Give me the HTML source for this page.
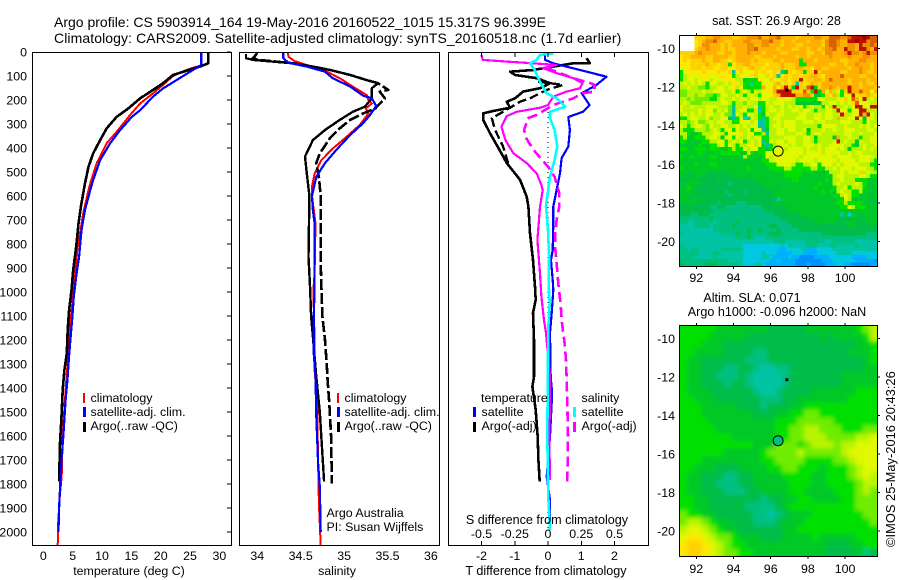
<!DOCTYPE html>
<html>
<head>
<meta charset="utf-8">
<title>Argo profile</title>
<style>
html,body{margin:0;padding:0;background:#fff;}
svg{display:block;font-family:"Liberation Sans",sans-serif;fill:#000;}
.t{font-size:14px;}
.l{font-size:12.4px;}
.w{font-size:12.6px;}
</style>
</head>
<body>
<svg id="chart" xmlns="http://www.w3.org/2000/svg" width="900" height="580" viewBox="0 0 900 580">
<defs>
<clipPath id="clip-a"><rect x="32" y="52" width="199" height="493"/></clipPath>
<clipPath id="clip-b"><rect x="239" y="52" width="201" height="493"/></clipPath>
<clipPath id="clip-c"><rect x="448" y="52" width="201" height="493"/></clipPath>
<clipPath id="clip-m2"><rect x="679.5" y="325" width="198" height="231.5"/></clipPath>
<filter id="soft" x="-5%" y="-5%" width="110%" height="110%"><feGaussianBlur stdDeviation="2.2"/></filter>
</defs>
<text class="t" x="54" y="27">Argo profile: CS 5903914_164 19-May-2016 20160522_1015 15.317S 96.399E</text>
<text class="t" x="54" y="43" style="letter-spacing:0.09px">Climatology: CARS2009. Satellite-adjusted climatology: synTS_20160518.nc (1.7d earlier)</text>
<g id="panels"></g>
<text class="l" x="129" y="575" text-anchor="middle">temperature (deg C)</text>
<text class="l" x="337" y="575" text-anchor="middle">salinity</text>
<text class="w" x="546" y="575" text-anchor="middle">T difference from climatology</text>
<text class="w" x="547" y="524" text-anchor="middle">S difference from climatology</text>
<text class="l" x="326.5" y="517">Argo Australia</text>
<text class="l" x="326.5" y="531">PI: Susan Wijffels</text>
<text class="w" x="776.5" y="25" text-anchor="middle">sat. SST: 26.9 Argo: 28</text>
<text class="w" x="752" y="302" text-anchor="middle">Altim. SLA: 0.071</text>
<text class="w" x="777" y="316" text-anchor="middle">Argo h1000: -0.096 h2000: NaN</text>
<text font-size="12.9" transform="translate(895,547) rotate(-90)">©IMOS 25-May-2016 20:43:26</text>
<g>
<rect x="83" y="393" width="2" height="10" fill="#f00"/>
<rect x="83" y="407" width="3" height="10" fill="#00f"/>
<rect x="83" y="422" width="3" height="10" fill="#000"/>
<text class="l" x="90.5" y="402">climatology</text>
<text class="l" x="90.5" y="416">satellite-adj. clim.</text>
<text class="l" x="90.5" y="430">Argo(..raw -QC)</text>
</g>
<g>
<rect x="337" y="393" width="2" height="10" fill="#f00"/>
<rect x="337" y="407" width="3" height="10" fill="#00f"/>
<rect x="337" y="422" width="3" height="10" fill="#000"/>
<text class="l" x="344.5" y="402">climatology</text>
<text class="l" x="344.5" y="416">satellite-adj. clim.</text>
<text class="l" x="344.5" y="430">Argo(..raw -QC)</text>
</g>
<g>
<text class="l" x="481" y="402">temperature</text>
<rect x="473" y="407" width="3" height="10" fill="#00f"/>
<text class="l" x="481.5" y="416">satellite</text>
<rect x="473" y="422" width="3" height="10" fill="#000"/>
<text class="l" x="481.5" y="430">Argo(-adj)</text>
<text class="l" x="581.5" y="402">salinity</text>
<rect x="573" y="407" width="3" height="10" fill="#0ff"/>
<text class="l" x="581.5" y="416">satellite</text>
<rect x="573" y="422" width="3" height="10" fill="#f0f"/>
<text class="l" x="581.5" y="430">Argo(-adj)</text>
</g>
</svg>
<script>
// ---- profile data (depth in dbar, values in physical units) ----
const climTDepth = [0,55,75,100,137,172,214,262,332,380,463,547,575,672,755,825,936,1033,1103,1186,1270,1339,1464,1603,1769,1839,1950,2055];
const climTValue = [26.9,26.9,24.4,22.1,20.4,18.7,16.5,14.8,12.5,10.8,9.1,8,7.7,6.8,6.25,5.8,5.4,5,4.7,4.4,4.26,4,3.65,3.3,3.13,2.85,2.56,2.45];
const satTDepth = [0,55,82,117,152,186,242,270,325,380,450,533,575,658,742,853,936,1019,1103,1186,1270,1353,1450,1603,1686,1797,1880,1950,2000];
const satTValue = [26.9,26.9,25,22.7,20.4,18.7,16.5,15.1,13.1,11.4,9.7,8.5,8,7.1,6.5,6.1,5.6,5.2,4.95,4.67,4.38,4.15,3.8,3.4,3.13,2.9,2.73,2.62,2.6];
const argoTDepth = [0,47,61,78,96,130,158,193,235,270,318,367,422,478,547,575,644,714,811,908,992,1075,1158,1255,1325,1408,1519,1630,1790];
const argoTValue = [28.1,28.1,26.7,24.4,22.1,20.4,18.7,16.5,14.5,12.5,10.8,9.7,8.5,7.7,7.1,6.9,6.4,6,5.6,5.1,4.8,4.4,4.15,4,3.6,3.3,3.1,2.85,2.7];

const climSDepth = [0,20,38,54,78,109,144,179,200,214,235,256,304,353,402,450,506,561,600,714,925,992,1200,1325,1464,1714,1880,2055];
const climSValue = [34.35,34.36,34.43,34.57,34.78,34.95,35.1,35.26,35.28,35.32,35.25,35.28,35.18,35.03,34.87,34.74,34.66,34.63,34.63,34.67,34.66,34.645,34.66,34.66,34.69,34.7,34.71,34.73];
const satSDepth = [0,26,45,61,82,109,144,182,193,225,262,296,346,408,463,520,600,660,714,992,1103,1255,1350,1519,1714,1810,2000];
const satSValue = [34.3,34.3,34.36,34.57,34.78,34.87,35.07,35.22,35.32,35.37,35.3,35.22,35.07,34.91,34.78,34.68,34.63,34.64,34.66,34.66,34.65,34.65,34.67,34.68,34.7,34.72,34.73];
const argoSDepth = [9,26,33,40,47,61,75,96,117,130,151,193,228,249,283,325,367,436,506,600,853,992,1103,1186,1270,1353,1500,1790];
const argoSValue = [33.87,33.87,33.95,34.18,34.41,34.64,34.84,35.07,35.26,35.39,35.32,35.32,35.24,35.1,34.95,34.78,34.64,34.55,34.57,34.6,34.59,34.61,34.62,34.64,34.66,34.68,34.72,34.77];
const rawSDepth = [5,26,33,47,61,75,96,117,130,158,165,193,235,256,283,318,358,422,463,520,603,714,879,992,1103,1200,1296,1367,1464,1603,1797];
const rawSValue = [34,33.95,34.02,34.41,34.64,34.84,35.07,35.26,35.39,35.51,35.41,35.47,35.36,35.22,35.07,34.95,34.84,34.72,34.68,34.71,34.73,34.73,34.73,34.74,34.75,34.78,34.8,34.81,34.83,34.85,34.86];

const dTSatDepth = [6,33,47,75,103,137,172,221,249,271,325,394,442,506,575,644,714,825,867,950,992,1088,1171,1353,1400,1460,1603,1769,1867,1992];
const dTSatValue = [-0.09,-0.09,0.16,0.96,1.76,1.46,1.01,1.25,1.05,0.61,0.66,0.61,0.41,0.36,0.26,0.16,0.16,0.14,0.09,0.14,0.16,0.11,0.06,0.08,0.11,0.11,0.06,-0.04,0.06,0.06];
const dTArgoDepth = [26,47,47,61,75,82,96,109,130,151,165,193,207,232,246,256,283,339,388,463,533,603,644,755,867,978,1033,1088,1200,1353,1394,1492,1603,1700,1790];
const dTArgoValue = [1.16,1.26,0.76,0.16,-0.45,-1.14,-0.99,-0.34,0.06,-0.24,-0.75,-0.99,-1.24,-1.14,-1.65,-1.95,-1.95,-1.74,-1.54,-1.24,-0.84,-0.64,-0.59,-0.54,-0.45,-0.39,-0.37,-0.45,-0.42,-0.42,-0.47,-0.37,-0.31,-0.29,-0.25];
const dTRawDepth = [124,130,137,158,193,207,249,276,325,394,463];
const dTRawValue = [-0.3,0.06,0.45,-0.04,-0.54,-0.84,-1.35,-1.69,-1.59,-1.35,-1.2];
const dSArgoDepth = [12,33,40,47,54,67,88,109,130,151,165,186,221,232,249,267,311,367,422,463,506,554,575,644,714,783,853,922,1019,1117,1171,1353,1464,1600,1783];
const dSArgoValue = [-0.5,-0.49,-0.31,-0.11,0.065,-0.04,0.065,0.19,0.26,0.24,0.14,0.04,0,-0.06,-0.235,-0.31,-0.35,-0.32,-0.26,-0.16,-0.085,-0.05,-0.04,-0.06,-0.07,-0.08,-0.07,-0.06,-0.05,-0.03,-0.015,0.015,0.015,0.01,0.015];
const dSRawDepth = [67,88,109,130,137,165,172,193,221,262,276,325,358,408,478,520,589,644,700,760,820,880,978,1047,1130,1213,1283,1353,1464,1600,1797];
const dSRawValue = [-0.01,0.09,0.19,0.32,0.35,0.35,0.26,0.19,0.04,-0.085,-0.15,-0.18,-0.165,-0.11,0,0.05,0.085,0.085,0.065,0.055,0.055,0.065,0.08,0.095,0.105,0.125,0.135,0.14,0.145,0.15,0.145];
const dSSatDepth = [6,12,33,47,75,124,172,193,228,249,276,325,394,450,520,617,644,742,853,970,1047,1146,1270,1600,1853,1992];
const dSSatValue = [0.04,-0.06,-0.085,-0.135,-0.1,-0.06,-0.01,0.065,0.13,0.015,0.015,0.05,0.07,0.05,0.015,-0.01,-0.015,0,0.008,0.005,0.013,0.002,0,-0.005,0.002,0.015];

// ---- tick labels ----
const depthTicks = [0,100,200,300,400,500,600,700,800,900,1000,1100,1200,1300,1400,1500,1600,1700,1800,1900,2000];
const tempTicks = [0,5,10,15,20,25,30];
const salinityTicks = [34,34.5,35,35.5,36];
const tDiffTicks = [-2,-1,0,1,2];
const sDiffTicks = [-0.5,-0.25,0,0.25,0.5];
const lonTicks = [92,94,96,98,100];
const latTicks = [-10,-12,-14,-16,-18,-20];
const argoLon = [96.399];
const argoLat = [-15.317];
const nearbyLon = [96.87];
const nearbyLat = [-12.15];

// ---- map colour levels (one letter per cell, see levelColours) ----
const levelColours = {a:'#0090ff',b:'#00b0ff',c:'#00c8e0',d:'#00c4a4',e:'#00c080',f:'#00bc48',g:'#00c828',h:'#00e000',i:'#70ec00',j:'#b8f400',k:'#e0f800',l:'#fce800',m:'#ffd000',n:'#ffb000',o:'#f09000',p:'#d86000',q:'#c01000',r:'#a00000',w:'#ffffff'};
const sstRows = [
'wwwwmmmnnoonnnmmnnooopnnoopnnnnmnnnnoonnpppoopqqqrqpp',
'wwwwlmnoopnnmmnnnoonnnoopnnmnnmnnnmnnnmopponnqqrqqopp',
'wwwwlmoonnnmnmnnnnoonnoonnnmnnnmmnnnnnmopponnoonqoopo',
'wwwwmnnonnnmnmmnnnoopnnnnnmnnnmmnnmnnmnoopnnqoonqqonq',
'mmmmnonnnnmmnnmnnnonnnmnnnnmmnnnnnmmnnmoonnnoqoonoqoo',
'lmmnnnnmmnnnnmmnnnnnmmnnnmnnnnnmnnmnnnnnonnnnonnnoonn',
'lmlmmmnmmnnmmlmnnnnmnmmmmnnmnnnnhnnnmnnnnnnmmnnnoonnn',
'lllmmmmnmmlmmhlmmnnmmmmlmmmnmmmnhhnnnnnnmmnnmnnonnnmn',
'kllmmmlmmllmmllmmlmnmmlmmmmnmmmnnmmlnnmmnnnnnmnnonnmn',
'hkllllmlllmllmdlmkllmlmllmldgmlmmgmmqmnnnnnmmnnnonmmn',
'hjlkklllkkllllhjlkllmkkmlmdkmlmmlmmnnmlnnnnpnnnnmmnnm',
'hjkkjkkljkklllljjghhhlkkmkkmmlmmqmmmnnmnpnnnnmnnnnmnn',
'jkjkjkjhkkjjkjlljhhdhhlkkmnkmlmdmlmnmmnnnnnnnmnnmnmmn',
'jjkjjiihjjkkjkljlhghhhnklnknqmgqmmpqgmnnonmnnqnnmnnnm',
'iijjjjkjjkkkjjkhjkjhkjkklnqqqqmmmpmhqgnknjlhmqnnpnnkn',
'iijjijjiihikkjjkjhkkjhkklmnqqqqnnoomgghmlnjhkkqlmmnml',
'jjijiiiihhjkjjkjkkjkkjkkjjklkkjhhhhhhkkjjjklmkpnkqjkj',
'jkjiiijjjjjkkjhjjikjjhhkjkkkjjjgggggggjjkkjkjkmpkkkjm',
'kjjkjjjkkkjjjidjjkjjkdhjkjjkjkjkkhjkjjhkjqjjkjkqqkkqq',
'kjjjjkjkkikjkidjkkhhjdhjkkjkjjkkjkkjhjjkkjqkkhkkqqjjj',
'jkjkjkjkkjjkiidkjhkkjhgkjjkkjjjjkkjjkkjkkjjqmjkkqnqkj',
'hhjkkjjkijjkkedhkcdkjhdhjkkjjjjkkkjjkkjkkjnjjkkqkfkkj',
'jjijkiijkjkkjjhhkkkjkddhjjkjkkkjjkkkjkkjjjjkkkjjjhkjj',
'kjhjkkjikjjkkjjkjkjkkddhjkkjkkkjjjjjjhkkkkjjkjjjkjkjk',
'jhhhjjjijkjhkkhkjjkhkkdgjjkkjkkjjkgjjjkjjkjjkkkjjjkkj',
'jjhgghjjjkkjhkkkljkkhhjdjjkkjjjkkjhjkkjjjjjjkkjjkjjjk',
'hjgghhhjkkjgkkhkjjkjkkhhjjjjkkkjjkkjgjjjjgnjjkjjhjjkk',
'hhgggghhjjkkhjkjkhjkjkdhkjkkjkkjjkkjhjjjjkqjkjjgkjjkk',
'ggggghgghhjkhkjhjjkljkgdhjkkkjkjjkkkjkjjkkkkjjhgjkjjk',
'hhgghhhghhhgghjhhkjkkhhghjkkjkkkkjkjjkjkkkjkjgjjjkjkj',
'ggggghggggghhhhhggjhghhkkkkkkkkkkjkkkljkkkkjjkjkkjjjj',
'hgghgggghhgggggggjhggggkjkkkkkkkjkkkkkkkkjkkkkjjkkkkj',
'gggggggggggggggggggggghhkkkkkkkjkkkkjkkkkkjkkkkjkkkjh',
'gggghggghhggggggggggggghhhkkkkjhhjjkkhkkkjkjkkkkjjjhh',
'hggggggggggggggggghggggghhhhjjhhhhhjjhhjjkjkkkjkkkjjh',
'ggggggggfggfgggggggggggggggghhhhhgghggggjjjkjkkkmjkjj',
'ggffgggfffffffggggfggggggggghhhhgggggggggjkkjjjjkkjhh',
'ffgggfffffgfffffffgfgggggggggghhggggggghgjjkjjjhhhggg',
'fgggggfffffffeffffffffggggggggggggggghgggjkjjjjkjhggg',
'gghgfffffffffffffffffffgggfggggggggghgggghjjkhjjjhggg',
'gggggfffffffeffffefffffffggggggggggggghghgjkjjhhjggfg',
'gggffffffffffefffffffffffggggggggggggggggghjkjhhggggg',
'ggfgggffffffffffffffffffffdgggggggggggggggghkjgggggfg',
'gfggffffffeffffeeefffffffggfgggggggggggggghhjhhhhgggf',
'ffffffffeeffeeeeeeeeeefffffffgggggggggggggghhkjhhhggg',
'fffffffffeeeeeeeeeeeeeeffffffgggggggggggggggggggggggg',
'fffeefffeeeeeeeeeeeeeeeeefffffffgggggggggggdgcggfgggg',
'eeeeeeeefeeeeeeeeeeeeeeeeeefffffffgggggggggfffgfgfggg',
'eeddeeeeedeeeeefeeeeeeeeeeeeeffffffffgggggffgggfffggg',
'ddddeeeedeeeeefeeeeeeeeeffeeeefffffffffffffffggffffgf',
'dddddddddeeeeeeeeefeefeeeefeeeeefffffffffffffffffffff',
'eddddddddddeeeefeefeeeeefffeeeeeeeeeeeffffffffffffeee',
'dddddddddddddddeeefedddeeeeeeeeeeeeeeeeeeeeeeeeeeeeee',
'dddddddddddddddddddddddddeeedddddeeeeeddeeeeeedddddd',
'eddddddddddddddddccccccccccdcdddddeeedddeedddddeddddd',
'eedeeddddddeeeeedcccccccccbbccccdbbbccccdddddddddddd',
'eeeeeddddeeddddddcccccdcccbbbbcccbbbbcccccddddccccccc',
'eeeedddddedddddddcccccddcbbbbcbbaaaabbbbccccccbbbbccc',
'eeeeeeeeeeeeeddddcccccccbbcbbbbaaaaaaabbbccccccbbbbba',
'feeeeeefffeeeeeedcccddcbbbbbbbbaaabaaaabbbccbbaaaaabb'
];
const slaRows = [
'hhhhhgggggggfffffggggggghij',
'hhhhgggggffffffffffgfgggghj',
'hhhgggffffffffffffffffffggh',
'hhggggffffeefffffffffffgggh',
'hggffffffeeefffffffffffffgh',
'hggfffeeffeddeeffffffffffgg',
'hggffeeefeddddefffffffggggg',
'hggfffeffeddddefffffffggggg',
'hgggffffffeddeffffgggggghhh',
'hhgggffffffeeeffggggggghhhh',
'hhhgggggfffefffgghhhhhhhhhh',
'hhhgggggggfffgghhiihhhhhhhh',
'hhhhggggggggghhhiiiiihhhhhh',
'hhhhhgggggggghhiijjiiihhhii',
'hhhhhhhgggggghhiijjjiiiijjk',
'hhhhhhhhhhgggiiihijjjijjkkk',
'hhhhhhggggghiiiijiiiiijkkkk',
'hhhgggggggghhiiiihhhhiijkkk',
'hhgggfffgggghhiihhhghhhijkk',
'hggfffeeffgggghhhhgghhhijkj',
'hggffeeeffggggghhhgghhhhijj',
'hggfffeeeffgggghhgggghhhiji',
'hhggfffffffeffgghhgggghhiii',
'hhggfffffeeeefghhhhhhhhhiii',
'ihhggfffffeedefggghhhhhhhii',
'ijjihggfffeeefggghhhhhhhhhi',
'jkkjihggffffffgghhhhhhhhhhh',
'kllkjiihgggfffgggghggggghhh',
'lmmlkjihhgggggggggggfffgghh',
'lmmlkjiihhggggggggggffffgef'
];

// ---- axis functions ----
const depthY = d => 52 + d * 0.24;
const tempX = v => 43.3 + v * 5.87;
const salX = v => 257.3 + (v - 34) * 86.8;
const tDiffX = v => 548 + v * 33.25;
const sDiffX = v => 548 + v * 133;
const lonX = v => 696.3 + (v - 92) * 18.6;
const latY1 = v => 48.7 + (-10 - v) * 19.26;
const latY2 = v => 338.3 + (-10 - v) * 19.26;

const NS = 'http://www.w3.org/2000/svg';
const root = document.getElementById('panels');
function mk(tag, parent) {
  const el = document.createElementNS(NS, tag);
  parent.appendChild(el);
  return el;
}
function frame(x, y, w, h, name) {
  const el = mk('rect', root);
  
  
  el.setAttribute('x', x); el.setAttribute('y', y);
  el.setAttribute('width', w); el.setAttribute('height', h);
  el.setAttribute('fill', 'none'); el.setAttribute('stroke', '#000');
  el.setAttribute('stroke-width', '1');
  el.setAttribute('shape-rendering', 'crispEdges');
}
function label(x, y, txt, anchor, name) {
  const el = mk('text', root);
  
  
  el.setAttribute('class', 'l');
  el.setAttribute('x', x); el.setAttribute('y', y);
  el.setAttribute('text-anchor', anchor);
  el.textContent = txt;
}
function tick(x1, y1, x2, y2, name) {
  const el = mk('line', root);
  
  
  el.setAttribute('x1', x1); el.setAttribute('y1', y1);
  el.setAttribute('x2', x2); el.setAttribute('y2', y2);
  el.setAttribute('stroke', '#000');
  el.setAttribute('shape-rendering', 'crispEdges');
}
function series(depths, values, xf, colour, width, dash, clip, name) {
  const el = mk('polyline', root);
  
  
  el.setAttribute('points', depths.map((d, i) => xf(values[i]).toFixed(1) + ',' + depthY(d).toFixed(1)).join(' '));
  el.setAttribute('fill', 'none');
  el.setAttribute('stroke', colour);
  el.setAttribute('stroke-width', width);
  el.setAttribute('stroke-linejoin', 'round');
  if (dash) el.setAttribute('stroke-dasharray', dash);
  el.setAttribute('clip-path', 'url(#' + clip + ')');
  el.setAttribute('shape-rendering', 'crispEdges');
}
function heat(rows, top, height, parent, name) {
  const left = 679.5, width = 198, rh = height / rows.length;
  rows.forEach((row, r) => {
    const cw = width / row.length;
    for (let c = 0; c < row.length; c++) {
      const el = mk('rect', parent);
      
      
      el.setAttribute('x', (left + c * cw).toFixed(2));
      el.setAttribute('y', (top + r * rh).toFixed(2));
      el.setAttribute('width', (cw + 0.6).toFixed(2));
      el.setAttribute('height', (rh + 0.6).toFixed(2));
      el.setAttribute('fill', levelColours[row[c]]);
    }
  });
}
function marker(cx, cy, fill, name) {
  const el = mk('circle', root);
  
  
  el.setAttribute('cx', cx); el.setAttribute('cy', cy); el.setAttribute('r', 5);
  el.setAttribute('fill', fill); el.setAttribute('stroke', '#000');
}
function dot(cx, cy, name) {
  const el = mk('rect', root);
  
  
  el.setAttribute('x', cx - 1.5); el.setAttribute('y', cy - 1.5);
  el.setAttribute('width', 3); el.setAttribute('height', 3);
  el.setAttribute('fill', '#000');
}

// ---- left panel: temperature ----
series(climTDepth, climTValue, tempX, '#f00', 2, '', 'clip-a', 'climatology-temperature-line');
series(argoTDepth, argoTValue, tempX, '#000', 2.6, '', 'clip-a', 'argo-temperature-line');
series(satTDepth, satTValue, tempX, '#00f', 2.2, '', 'clip-a', 'satellite-temperature-line');
frame(32.5, 52.5, 199, 493, 'temperature-plot-frame');
depthTicks.forEach(d => {
  label(27, depthY(d) + 4.5, String(d), 'end', 'depth-tick-label');
  tick(227, depthY(d), 231, depthY(d), 'depth-tick');
});
tempTicks.forEach(v => label(tempX(v), 560, String(v), 'middle', 'temperature-tick-label'));

// ---- middle panel: salinity ----
series(climSDepth, climSValue, salX, '#f00', 2, '', 'clip-b', 'climatology-salinity-line');
series(rawSDepth, rawSValue, salX, '#000', 2.6, '11 3', 'clip-b', 'argo-raw-salinity-line');
series(argoSDepth, argoSValue, salX, '#000', 2.4, '', 'clip-b', 'argo-qc-salinity-line');
series(satSDepth, satSValue, salX, '#00f', 2.2, '', 'clip-b', 'satellite-salinity-line');
frame(239.5, 52.5, 200, 493, 'salinity-plot-frame');
salinityTicks.forEach(v => label(salX(v), 560, String(v), 'middle', 'salinity-tick-label'));

// ---- right profile panel: differences ----
const zero = mk('line', root);


zero.setAttribute('x1', tDiffX(0)); zero.setAttribute('x2', tDiffX(0));
zero.setAttribute('y1', depthY(230)); zero.setAttribute('y2', depthY(2000));
zero.setAttribute('stroke', '#000');
zero.setAttribute('stroke-dasharray', '1 4');
zero.setAttribute('shape-rendering', 'crispEdges');
series(dTRawDepth, dTRawValue, tDiffX, '#000', 2.4, '9 4', 'clip-c', 'argo-raw-t-difference-line');
series(dTArgoDepth, dTArgoValue, tDiffX, '#000', 2.6, '', 'clip-c', 'argo-t-difference-line');
series(dTSatDepth, dTSatValue, tDiffX, '#00f', 2.2, '', 'clip-c', 'satellite-t-difference-line');
series(dSRawDepth, dSRawValue, sDiffX, '#f0f', 2.6, '10 5', 'clip-c', 'argo-raw-s-difference-line');
series(dSArgoDepth, dSArgoValue, sDiffX, '#f0f', 2.2, '', 'clip-c', 'argo-s-difference-line');
series(dSSatDepth, dSSatValue, sDiffX, '#0ff', 2.6, '', 'clip-c', 'satellite-s-difference-line');
frame(448.5, 52.5, 200, 493, 'difference-plot-frame');
tDiffTicks.forEach(v => {
  label(tDiffX(v), 560, String(v), 'middle', 't-difference-tick-label');
  tick(tDiffX(v), 541, tDiffX(v), 545, 't-difference-tick');
  tick(tDiffX(v), 53, tDiffX(v), 57, 't-difference-top-tick');
});
sDiffTicks.forEach(v => label(sDiffX(v), 538, String(v), 'middle', 's-difference-tick-label'));

// ---- SST map ----
const sstGroup = mk('g', root);


sstGroup.setAttribute('shape-rendering', 'crispEdges');
heat(sstRows, 35.5, 231, sstGroup, 'sst-cell');
frame(679.5, 35.5, 198, 231, 'sst-map-frame');
marker(lonX(argoLon[0]), latY1(argoLat[0]), levelColours.k, 'sst-argo-marker');
dot(lonX(nearbyLon[0]), latY1(nearbyLat[0]), 'sst-nearby-dot');

// ---- SLA map ----
const slaGroup = mk('g', root);


slaGroup.setAttribute('clip-path', 'url(#clip-m2)');
const slaBase = mk('g', slaGroup);


slaBase.setAttribute('shape-rendering', 'crispEdges');
heat(slaRows, 325.5, 231, slaBase, 'sla-cell');
const slaSoft = mk('g', slaGroup);


slaSoft.setAttribute('filter', 'url(#soft)');
slaSoft.setAttribute('shape-rendering', 'crispEdges');
heat(slaRows, 325.5, 231, slaSoft, 'sla-cell');
frame(679.5, 325.5, 198, 231, 'sla-map-frame');
marker(lonX(argoLon[0]), latY2(argoLat[0]), levelColours.e, 'sla-argo-marker');
dot(lonX(nearbyLon[0]), latY2(nearbyLat[0]), 'sla-nearby-dot');

// ---- map axes ----
lonTicks.forEach(v => {
  const x = lonX(v);
  label(x, 282, String(v), 'middle', 'sst-longitude-tick-label');
  label(x, 573, String(v), 'middle', 'sla-longitude-tick-label');
  tick(x, 33, x, 35, 'sst-top-tick');
  tick(x, 267, x, 269, 'sst-bottom-tick');
  tick(x, 323, x, 325, 'sla-top-tick');
  tick(x, 557, x, 559, 'sla-bottom-tick');
});
latTicks.forEach(v => {
  label(675, latY1(v) + 4.5, String(v), 'end', 'sst-latitude-tick-label');
  label(675, latY2(v) + 4.5, String(v), 'end', 'sla-latitude-tick-label');
  tick(878, latY1(v), 880, latY1(v), 'sst-right-tick');
  tick(878, latY2(v), 880, latY2(v), 'sla-right-tick');
});
</script>
</body>
</html>
